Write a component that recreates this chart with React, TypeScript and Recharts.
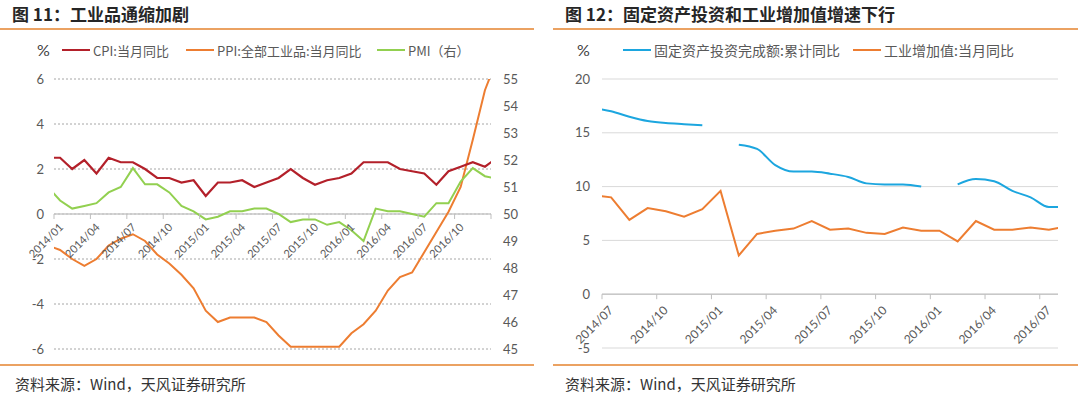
import React from "react";
import {
  LineChart,
  Line,
  XAxis,
  YAxis,
  CartesianGrid,
  ReferenceLine,
} from "recharts";

// 图11: one point per month, 2013/12 .. 2017/01 (first and last get clipped at the plot edges)
const monthsA = [
  "2013/12",
  "2014/01", "2014/02", "2014/03", "2014/04", "2014/05", "2014/06",
  "2014/07", "2014/08", "2014/09", "2014/10", "2014/11", "2014/12",
  "2015/01", "2015/02", "2015/03", "2015/04", "2015/05", "2015/06",
  "2015/07", "2015/08", "2015/09", "2015/10", "2015/11", "2015/12",
  "2016/01", "2016/02", "2016/03", "2016/04", "2016/05", "2016/06",
  "2016/07", "2016/08", "2016/09", "2016/10", "2016/11", "2016/12",
  "2017/01",
];
const cpi = [
  2.5,
  2.5, 2.0, 2.4, 1.8, 2.5, 2.3, 2.3, 2.0, 1.6, 1.6, 1.4, 1.5,
  0.8, 1.4, 1.4, 1.5, 1.2, 1.4, 1.6, 2.0, 1.6, 1.3, 1.5, 1.6,
  1.8, 2.3, 2.3, 2.3, 2.0, 1.9, 1.8, 1.3, 1.9, 2.1, 2.3, 2.1,
  2.5,
];
const ppi = [
  -1.4,
  -1.6, -2.0, -2.3, -2.0, -1.4, -1.1, -0.9, -1.2, -1.8, -2.2, -2.7, -3.3,
  -4.3, -4.8, -4.6, -4.6, -4.6, -4.8, -5.4, -5.9, -5.9, -5.9, -5.9, -5.9,
  -5.3, -4.9, -4.3, -3.4, -2.8, -2.6, -1.7, -0.8, 0.1, 1.2, 3.3, 5.5,
  6.9,
];
const pmi = [
  51.0,
  50.5, 50.2, 50.3, 50.4, 50.8, 51.0, 51.7, 51.1, 51.1, 50.8, 50.3, 50.1,
  49.8, 49.9, 50.1, 50.1, 50.2, 50.2, 50.0, 49.7, 49.8, 49.8, 49.6, 49.7,
  49.4, 49.0, 50.2, 50.1, 50.1, 50.0, 49.9, 50.4, 50.4, 51.2, 51.7, 51.4,
  51.3,
];
const tickLabelsA = [
  "2014/01", "2014/04", "2014/07", "2014/10",
  "2015/01", "2015/04", "2015/07", "2015/10",
  "2016/01", "2016/04", "2016/07", "2016/10",
];
const leftTicksA = [-6, -4, -2, 0, 2, 4, 6];
const rightTicksA = [45, 46, 47, 48, 49, 50, 51, 52, 53, 54, 55];

// 图12: 2014/06 .. 2016/08, January values missing for FAI
const monthsB = [
  "2014/06", "2014/07", "2014/08", "2014/09", "2014/10", "2014/11", "2014/12",
  "2015/01", "2015/02", "2015/03", "2015/04", "2015/05", "2015/06",
  "2015/07", "2015/08", "2015/09", "2015/10", "2015/11", "2015/12",
  "2016/01", "2016/02", "2016/03", "2016/04", "2016/05", "2016/06",
  "2016/07", "2016/08",
];
const fai = [
  17.3, 17.0, 16.5, 16.1, 15.9, 15.8, 15.7,
  null, 13.9, 13.5, 12.0, 11.4, 11.4, 11.2, 10.9, 10.3, 10.2, 10.2, 10.0,
  null, 10.2, 10.7, 10.5, 9.6, 9.0, 8.1, 8.1,
];
const iva = [
  9.2, 9.0, 6.9, 8.0, 7.7, 7.2, 7.9,
  9.6, 3.6, 5.6, 5.9, 6.1, 6.8, 6.0, 6.1, 5.7, 5.6, 6.2, 5.9,
  5.9, 4.9, 6.8, 6.0, 6.0, 6.2, 6.0, 6.3,
];
const tickLabelsB = [
  "2014/07", "2014/10", "2015/01", "2015/04", "2015/07",
  "2015/10", "2016/01", "2016/04", "2016/07",
];
const yTicksB = [-5, 0, 5, 10, 15, 20];

// points sit in the middle of their month, ticks on month starts
const rowsA = monthsA.map((m, i) => ({
  x: i - 0.5,
  month: m,
  cpi: cpi[i],
  ppi: ppi[i],
  pmi: pmi[i],
}));
const rowsB = monthsB.map((m, i) => ({
  x: i - 0.5,
  month: m,
  fai: fai[i],
  iva: iva[i],
}));

const AXIS_FONT = 'Lato, "Noto Sans CJK SC", sans-serif';
const CJK_FONT = '"Noto Sans CJK SC", "Noto Sans", sans-serif';

// layout of the two plot areas
const A = { top: 79, bottom: 349, min: -6, max: 6 };
const B = { top: 79, bottom: 348, min: -5, max: 20 };
const zeroOf = (p: typeof A) =>
  p.top + ((p.max - 0) / (p.max - p.min)) * (p.bottom - p.top);
const X_H = 2; // tiny x axis band; labels are drawn up at the zero line

const MonthTick = (props: any) => {
  const { x, payload, labels, zeroY, dx, dy, fontSize } = props;
  const label = labels[Math.round(payload.value / 3)];
  const tx = x + dx;
  const ty = zeroY + dy;
  return (
    <g>
      <line x1={x} x2={x} y1={zeroY} y2={zeroY + 5} stroke="#BFBFBF" />
      {label && (
        <text
          x={tx}
          y={ty}
          transform={`rotate(-45, ${tx}, ${ty})`}
          textAnchor="end"
          fontSize={fontSize}
          fontFamily={AXIS_FONT}
          fill="#595959"
        >
          {label}
        </text>
      )}
    </g>
  );
};

const Swatch = ({ left, color, text, size }: any) => (
  <div
    style={{
      position: "absolute",
      left,
      top: 40,
      height: 20,
      display: "flex",
      alignItems: "center",
      fontSize: size,
      color: "#595959",
      fontFamily: CJK_FONT,
      whiteSpace: "nowrap",
    }}
  >
    <span
      style={{
        display: "inline-block",
        width: 28,
        height: 2.5,
        background: color,
        marginRight: 3,
      }}
    />
    {text}
  </div>
);

const titleStyle: React.CSSProperties = {
  position: "absolute",
  top: 2,
  fontSize: 17,
  fontWeight: 700,
  lineHeight: "24px",
  color: "#262626",
  fontFamily: CJK_FONT,
  whiteSpace: "nowrap",
};
const sourceStyle: React.CSSProperties = {
  position: "absolute",
  top: 374,
  fontSize: 15,
  lineHeight: "20px",
  color: "#333",
  fontFamily: CJK_FONT,
  whiteSpace: "nowrap",
};
const rule = (left: number, top: number, width: number): React.CSSProperties => ({
  position: "absolute",
  left,
  top,
  width,
  height: 2,
  background: "#EBA262",
});
const pct: React.CSSProperties = {
  position: "absolute",
  top: 40,
  lineHeight: "20px",
  fontSize: 16,
  color: "#404040",
  fontFamily: AXIS_FONT,
};

export default function App() {
  const zeroA = zeroOf(A);
  const zeroB = zeroOf(B);
  return (
    <div
      style={{
        position: "relative",
        width: 1080,
        height: 394,
        background: "#fff",
        overflow: "hidden",
      }}
    >
      <style>{"body{margin:0}"}</style>

      {/* 图 11 */}
      <div style={{ position: "absolute", left: 0, top: 0 }}>
        <LineChart
          width={540}
          height={394}
          data={rowsA}
          margin={{ top: A.top, right: 0, bottom: 394 - A.bottom - X_H, left: 0 }}
        >
          <CartesianGrid
            yAxisId="l"
            vertical={false}
            stroke="#A6A6A6"
            strokeDasharray="2 2"
          />
          <XAxis
            type="number"
            dataKey="x"
            domain={[0, 36]}
            ticks={[0, 3, 6, 9, 12, 15, 18, 21, 24, 27, 30, 33, 36]}
            interval={0}
            allowDataOverflow
            axisLine={false}
            tickLine={false}
            height={X_H}
            tick={(p: any) => (
              <MonthTick
                {...p}
                labels={tickLabelsA}
                zeroY={zeroA}
                dx={10}
                dy={14}
                fontSize={11}
              />
            )}
          />
          <YAxis
            yAxisId="l"
            domain={[A.min, A.max]}
            ticks={leftTicksA}
            allowDataOverflow
            width={54}
            axisLine={false}
            tickLine={false}
            tickSize={0}
            tickMargin={10}
            tick={{ fontSize: 13, fill: "#595959", fontFamily: AXIS_FONT }}
          />
          <YAxis
            yAxisId="r"
            orientation="right"
            domain={[45, 55]}
            ticks={rightTicksA}
            allowDataOverflow
            width={49}
            axisLine={false}
            tickLine={false}
            tickSize={0}
            tickMargin={12}
            tick={{ fontSize: 13, fill: "#595959", fontFamily: AXIS_FONT }}
          />
          <ReferenceLine yAxisId="l" y={0} stroke="#C8C8C8" strokeWidth={1.5} />
          <Line
            yAxisId="l"
            dataKey="ppi"
            stroke="#ED7D31"
            strokeWidth={2}
            dot={false}
            isAnimationActive={false}
          />
          <Line
            yAxisId="r"
            dataKey="pmi"
            stroke="#92D050"
            strokeWidth={2}
            dot={false}
            isAnimationActive={false}
          />
          <Line
            yAxisId="l"
            dataKey="cpi"
            stroke="#B3202A"
            strokeWidth={2.2}
            dot={false}
            isAnimationActive={false}
          />
        </LineChart>
      </div>

      {/* 图 12 */}
      <div style={{ position: "absolute", left: 540, top: 0 }}>
        <LineChart
          width={540}
          height={394}
          data={rowsB}
          margin={{ top: B.top, right: 22, bottom: 394 - B.bottom - X_H, left: 0 }}
        >
          <CartesianGrid vertical={false} stroke="#D9D9D9" />
          <XAxis
            type="number"
            dataKey="x"
            domain={[0, 25]}
            ticks={[0, 3, 6, 9, 12, 15, 18, 21, 24]}
            interval={0}
            allowDataOverflow
            axisLine={false}
            tickLine={false}
            height={X_H}
            tick={(p: any) => (
              <MonthTick
                {...p}
                labels={tickLabelsB}
                zeroY={zeroB}
                dx={12}
                dy={17}
                fontSize={12}
              />
            )}
          />
          <YAxis
            domain={[B.min, B.max]}
            ticks={yTicksB}
            allowDataOverflow
            width={62}
            axisLine={false}
            tickLine={false}
            tickSize={0}
            tickMargin={12}
            tick={{ fontSize: 13, fill: "#595959", fontFamily: AXIS_FONT }}
          />
          <ReferenceLine y={0} stroke="#C8C8C8" strokeWidth={1.5} />
          <Line
            dataKey="fai"
            type="monotone"
            stroke="#1CA6DF"
            strokeWidth={2}
            dot={false}
            isAnimationActive={false}
          />
          <Line
            dataKey="iva"
            stroke="#ED7D31"
            strokeWidth={2}
            dot={false}
            isAnimationActive={false}
          />
        </LineChart>
      </div>

      {/* titles, rules, legends, sources */}
      <div style={{ ...titleStyle, left: 12 }}>图 11：工业品通缩加剧</div>
      <div style={{ ...titleStyle, left: 565 }}>
        图 12：固定资产投资和工业增加值增速下行
      </div>
      <div style={rule(0, 28, 534)} />
      <div style={rule(553, 28, 525)} />
      <div style={rule(0, 364, 534)} />
      <div style={rule(553, 364, 525)} />

      <div style={{ ...pct, left: 37 }}>%</div>
      <Swatch left={62} color="#B3202A" text="CPI:当月同比" size={13} />
      <Swatch left={186} color="#ED7D31" text="PPI:全部工业品:当月同比" size={13} />
      <Swatch left={377} color="#92D050" text="PMI（右）" size={13} />

      <div style={{ ...pct, left: 577 }}>%</div>
      <Swatch left={623} color="#1CA6DF" text="固定资产投资完成额:累计同比" size={14} />
      <Swatch left={853} color="#ED7D31" text="工业增加值:当月同比" size={14} />

      <div style={{ ...sourceStyle, left: 15 }}>资料来源：Wind，天风证券研究所</div>
      <div style={{ ...sourceStyle, left: 565 }}>资料来源：Wind，天风证券研究所</div>
    </div>
  );
}
